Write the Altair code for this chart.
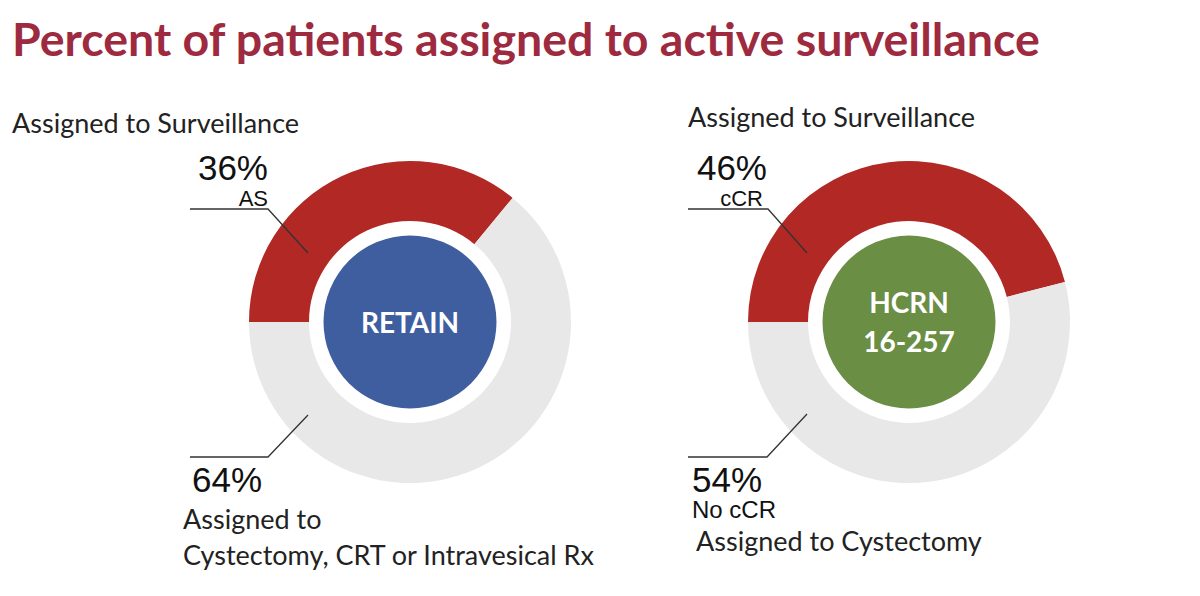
import math
import altair as alt
import pandas as pd

# ---------------- data ----------------
TITLE = "Percent of patients assigned to active surveillance"
studies = ["RETAIN", "HCRN 16-257"]
center_lines = [["RETAIN"], ["HCRN", "16-257"]]
surv_pct = [36, 46]
other_pct = [64, 54]
surv_tag = ["AS", "cCR"]
other_tag = ["", "No cCR"]
header = ["Assigned to Surveillance", "Assigned to Surveillance"]
footer = [["Assigned to", "Cystectomy, CRT or Intravesical Rx"], ["Assigned to Cystectomy"]]

# ---------------- layout / style ----------------
W, H = 1184, 580
CX = [410, 909]
CY = 322
R_OUT, R_IN, R_CORE = 161, 101, 86.5
RED, GRAY = "#B12824", "#E8E8E8"
CORE = ["#3F5E9F", "#6A8E44"]
TITLE_COLOR = "#9E2A40"
SANS = "Lato"
ARIAL = "Liberation Sans"

xs = alt.Scale(domain=[8, 8 + W], nice=False, zero=False)
ys = alt.Scale(domain=[8, 8 + H], nice=False, zero=False, reverse=True)
X = lambda f: alt.X(f, type="quantitative", scale=xs, axis=None)
Y = lambda f: alt.Y(f, type="quantitative", scale=ys, axis=None)

layers = []

for i in range(2):
    cx = CX[i]
    seg = pd.DataFrame({
        "seg": ["surv", "other"],
        "value": [surv_pct[i], other_pct[i]],
        "ord": [0, 1],
        "cx": [cx, cx],
        "cy": [CY, CY],
    })
    arc = alt.Chart(seg).mark_arc(innerRadius=R_IN, outerRadius=R_OUT).encode(
        theta=alt.Theta("value:Q", stack=True,
                        scale=alt.Scale(domain=[0, 100], range=[1.5 * math.pi, 3.5 * math.pi])),
        color=alt.Color("seg:N", scale=alt.Scale(domain=["surv", "other"], range=[RED, GRAY]), legend=None),
        order=alt.Order("ord:Q"),
        x=X("cx"), y=Y("cy"),
    )
    layers.append(arc)

    # Vega circle symbol: radius = sqrt(size) / 2
    core = alt.Chart(pd.DataFrame({"study": [studies[i]], "cx": [cx], "cy": [CY]})).mark_circle(
        size=(2 * R_CORE) ** 2, opacity=1, fill=CORE[i], stroke=None
    ).encode(x=X("cx"), y=Y("cy"))
    layers.append(core)

# ---- leader lines ----
lines = []
leaders = [
    [(190, 209), (268, 209), (308, 253)],
    [(308, 415), (268, 457), (190, 457)],
    [(688, 209), (768, 209), (807, 253)],
    [(807, 414), (767, 457), (688, 457)],
]
for lid, pts in enumerate(leaders):
    for k, (px, py) in enumerate(pts):
        lines.append({"lid": lid, "k": k, "px": px, "py": py})
layers.append(
    alt.Chart(pd.DataFrame(lines)).mark_line(color="#333333", strokeWidth=1.3).encode(
        x=X("px"), y=Y("py"), detail="lid:N", order="k:Q"
    )
)

# ---- texts ----
def txt(rows, **mk):
    return alt.Chart(pd.DataFrame(rows)).mark_text(baseline="alphabetic", **mk).encode(
        x=X("tx"), y=Y("ty"), text="t:N"
    )

# title
layers.append(txt([{"tx": 12, "ty": 56, "t": TITLE}], align="left", font=SANS, fontSize=46.5,
                  fontWeight="bold", color=TITLE_COLOR))
# headers
layers.append(txt([{"tx": 12, "ty": 133, "t": header[0]}, {"tx": 688, "ty": 127, "t": header[1]}],
                  align="left", font=SANS, fontSize=27, color="#222222"))
# big percentages
layers.append(txt([{"tx": 268, "ty": 180, "t": f"{surv_pct[0]}%"}, {"tx": 767, "ty": 180, "t": f"{surv_pct[1]}%"}],
                  align="right", font=ARIAL, fontSize=35, color="#111111"))
layers.append(txt([{"tx": 192, "ty": 492, "t": f"{other_pct[0]}%"}, {"tx": 692, "ty": 492, "t": f"{other_pct[1]}%"}],
                  align="left", font=ARIAL, fontSize=35, color="#111111"))
# tags
layers.append(txt([{"tx": 268, "ty": 206, "t": surv_tag[0]}, {"tx": 763, "ty": 206, "t": surv_tag[1]}],
                  align="right", font=ARIAL, fontSize=22, color="#111111"))
layers.append(txt([{"tx": 692, "ty": 518, "t": other_tag[1]}],
                  align="left", font=ARIAL, fontSize=24, color="#111111"))
# footers
layers.append(txt([{"tx": 183, "ty": 529, "t": footer[0][0]},
                   {"tx": 183, "ty": 565, "t": footer[0][1]},
                   {"tx": 696, "ty": 551, "t": footer[1][0]}],
                  align="left", font=SANS, fontSize=27, color="#222222"))
# centre labels
layers.append(txt([{"tx": CX[0], "ty": 333, "t": center_lines[0][0]},
                   {"tx": CX[1], "ty": 313, "t": center_lines[1][0]},
                   {"tx": CX[1], "ty": 352, "t": center_lines[1][1]}],
                  align="center", font=SANS, fontSize=28, fontWeight="bold", color="white"))

chart = alt.layer(*layers).properties(
    width=W, height=H, background="white", padding=0,
    autosize=alt.AutoSizeParams(type="none"),
).configure_view(stroke=None)

chart.save("out.html", embed_options={"renderer": "svg", "actions": False})
